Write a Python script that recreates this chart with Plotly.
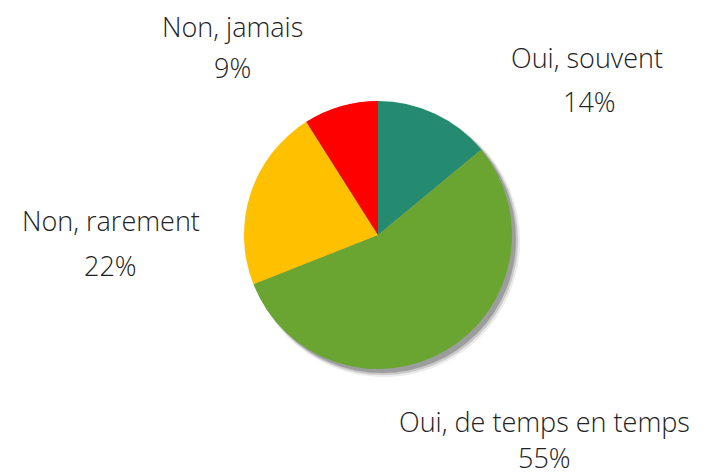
import plotly.graph_objects as go

categories = ["Oui, souvent", "Oui, de temps en temps", "Non, rarement", "Non, jamais"]
values = [14, 55, 22, 9]
colors = ["#248A70", "#6AA532", "#FFC000", "#FF0000"]

W, H = 714, 475
OFF = 8  # page body margin
cx, cy, r = 378 - OFF, 235 - OFF, 134

def dom(dx=0, dy=0, dr=0):
    return dict(
        x=[(cx - r - dr + dx) / W, (cx + r + dr + dx) / W],
        y=[1 - (cy + r + dr + dy) / H, 1 - (cy - r - dr + dy) / H],
    )

fig = go.Figure()
for dx, dy, dr, a in [(6, 6, 2, 0.08), (5, 5, 1, 0.14), (4, 4, 0, 0.22)]:
    fig.add_trace(go.Pie(
        values=[sum(values)], labels=["shadow"], domain=dom(dx, dy, dr),
        marker=dict(colors=[f"rgba(0,0,0,{a})"], line=dict(width=0)),
        textinfo="none", hoverinfo="skip", showlegend=False, sort=False,
    ))
fig.add_trace(go.Pie(
    values=values, labels=categories, domain=dom(),
    marker=dict(colors=colors, line=dict(width=0)),
    sort=False, direction="clockwise", rotation=0,
    textinfo="none", showlegend=False,
))

label_pos = [((587, 57), (589, 101)), ((544, 421), (544, 457)),
             ((111, 220), (111, 265)), ((232, 26), (232, 68))]
total = sum(values)
font = dict(family="Open Sans", size=27, color="#222222", weight=350)
for cat, v, (p1, p2) in zip(categories, values, label_pos):
    for text, (px, py) in [(cat, p1), (f"{round(100 * v / total)}%", p2)]:
        fig.add_annotation(text=text, x=(px - OFF) / W, y=1 - (py - OFF) / H,
                           xref="paper", yref="paper", borderpad=0,
                           xanchor="center", yanchor="middle", showarrow=False, font=font)

fig.update_layout(width=W, height=H, margin=dict(l=0, r=0, t=0, b=0),
                  paper_bgcolor="white", plot_bgcolor="white")
fig.write_html("out.html")
